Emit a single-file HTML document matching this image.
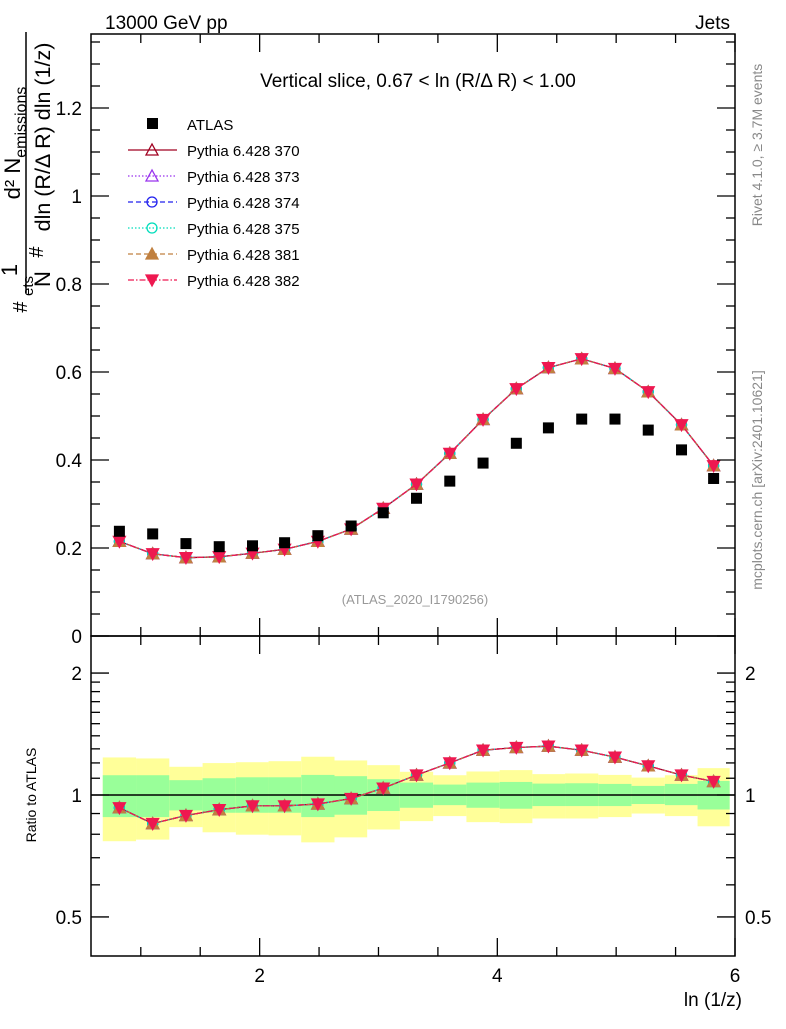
<!DOCTYPE html>
<html><head><meta charset="utf-8"><style>
body{margin:0;background:#fff;}
svg text{font-family:"Liberation Sans",sans-serif;}
</style></head><body>
<svg id="chart" width="786" height="1024" viewBox="0 0 786 1024" xmlns="http://www.w3.org/2000/svg">
<g id="bands"></g>
<g id="marks"></g>
<g id="axes"></g>
<text x="105" y="29" font-size="19">13000 GeV pp</text>
<text x="730" y="29" font-size="19" text-anchor="end">Jets</text>
<text x="418" y="87" font-size="19" text-anchor="middle">Vertical slice, 0.67 &lt; ln (R/Δ R) &lt; 1.00</text>
<text x="415" y="604" font-size="13" fill="#999" text-anchor="middle">(ATLAS_2020_I1790256)</text>
<text transform="translate(762,145) rotate(-90)" font-size="14" fill="#888" text-anchor="middle">Rivet 4.1.0, ≥ 3.7M events</text>
<text transform="translate(762,480) rotate(-90)" font-size="14" fill="#888" text-anchor="middle">mcplots.cern.ch [arXiv:2401.10621]</text>
<g>
<text transform="translate(20,143) rotate(-90)" font-size="22" text-anchor="middle">d² N<tspan font-size="16" dy="6">emissions</tspan></text>
<line x1="26" y1="32" x2="26" y2="293" stroke="#000" stroke-width="1.5"/>
<text transform="translate(50,137) rotate(-90)" font-size="21.5" text-anchor="middle">dln (R/Δ R) dln (1/z)</text>
<text transform="translate(43,252) rotate(-90)" font-size="20" text-anchor="middle">#</text>
<text transform="translate(17,270) rotate(-90)" font-size="22" text-anchor="middle">1</text>
<text transform="translate(50,279) rotate(-90)" font-size="22" text-anchor="middle">N</text>
<text transform="translate(33,286) rotate(-90)" font-size="15" text-anchor="middle">ets</text>
<text transform="translate(27,307) rotate(-90)" font-size="20" text-anchor="middle">#</text>
</g>
<text transform="translate(36,795) rotate(-90)" font-size="14" text-anchor="middle">Ratio to ATLAS</text>
<text x="742" y="1006" font-size="19" text-anchor="end">ln (1/z)</text>
<g id="legend"></g>
</svg>
<script>
const xVals=[0.82,1.10,1.38,1.66,1.94,2.21,2.49,2.77,3.04,3.32,3.60,3.88,4.16,4.43,4.71,4.99,5.27,5.55,5.82];
const atlasVals=[0.238,0.232,0.210,0.203,0.205,0.212,0.228,0.250,0.280,0.313,0.352,0.393,0.438,0.473,0.493,0.493,0.468,0.423,0.358];
const mcVals=[0.215,0.187,0.178,0.180,0.188,0.197,0.215,0.243,0.290,0.345,0.415,0.492,0.562,0.610,0.630,0.608,0.555,0.480,0.387];
const ratioVals=[0.93,0.85,0.89,0.92,0.94,0.94,0.95,0.98,1.04,1.12,1.20,1.29,1.31,1.32,1.29,1.24,1.18,1.12,1.08];
const yellowHi=[1.238,1.231,1.174,1.199,1.205,1.212,1.243,1.217,1.185,1.141,1.119,1.143,1.152,1.126,1.130,1.121,1.104,1.119,1.165];
const greenHi=[1.119,1.119,1.088,1.100,1.106,1.106,1.121,1.113,1.094,1.073,1.061,1.073,1.077,1.067,1.069,1.065,1.053,1.065,1.083];
const greenLo=[0.882,0.882,0.916,0.904,0.904,0.904,0.882,0.894,0.913,0.930,0.944,0.930,0.925,0.939,0.939,0.939,0.950,0.944,0.921];
const yellowLo=[0.769,0.776,0.833,0.809,0.798,0.795,0.764,0.786,0.822,0.862,0.887,0.857,0.852,0.875,0.875,0.882,0.900,0.887,0.837];
const seriesNames=["Pythia 6.428 370","Pythia 6.428 373","Pythia 6.428 374","Pythia 6.428 375","Pythia 6.428 381","Pythia 6.428 382"];
const NS="http://www.w3.org/2000/svg";
const L=91,R=735,T=34,MB=636,RB=956;
const X=v=>L+(v-0.581)*(R-L)/(6.0-0.581);
const Y=v=>MB-v*440;
const YR=v=>795-Math.log10(v)*405;
function mk(tag,attrs,parent){const e=document.createElementNS(NS,tag);for(const k in attrs)e.setAttribute(k,attrs[k]);parent.appendChild(e);return e;}
const bands=document.getElementById('bands'),marks=document.getElementById('marks'),axes=document.getElementById('axes'),legend=document.getElementById('legend');
const edges=[];
for(let i=0;i<=xVals.length;i++){
  if(i==0)edges.push(xVals[0]-(xVals[1]-xVals[0])/2);
  else if(i==xVals.length)edges.push(xVals[i-1]+(xVals[i-1]-xVals[i-2])/2);
  else edges.push((xVals[i-1]+xVals[i])/2);
}
for(let i=0;i<xVals.length;i++){
  const x0=X(edges[i]),x1=X(edges[i+1]);
  let r=mk('rect',{x:x0,y:YR(yellowHi[i]),width:x1-x0,height:YR(yellowLo[i])-YR(yellowHi[i]),fill:'#ffff99'},bands);
  
  
  r=mk('rect',{x:x0,y:YR(greenHi[i]),width:x1-x0,height:YR(greenLo[i])-YR(greenHi[i]),fill:'#99ff99'},bands);
  
  
}
mk('line',{x1:L,x2:R,y1:YR(1),y2:YR(1),stroke:'#000','stroke-width':1.5},bands);
const styles=[
 {c:'#a00020',dash:'',m:'tri',fill:'none'},
 {c:'#9933ee',dash:'1.5,2',m:'tri',fill:'none'},
 {c:'#2222ee',dash:'5,3',m:'circ',fill:'none'},
 {c:'#00ddbb',dash:'1.5,2',m:'circ',fill:'none'},
 {c:'#c08040',dash:'5,3',m:'tri',fill:'#c08040'},
 {c:'#ee1850',dash:'6,2,1.5,2',m:'tridown',fill:'#ee1850'}];
function marker(s,x,y,g){
  if(s.m=='circ')return mk('circle',{cx:x,cy:y,r:5,fill:s.fill,stroke:s.c,'stroke-width':1.3},g);
  if(s.m=='tri')return mk('polygon',{points:`${x},${y-6} ${x-6},${y+5} ${x+6},${y+5}`,fill:s.fill,stroke:s.c,'stroke-width':1.3},g);
  return mk('polygon',{points:`${x},${y+6} ${x-6},${y-5} ${x+6},${y-5}`,fill:s.fill,stroke:s.c,'stroke-width':1.3},g);
}
styles.forEach((s,k)=>{
  const pm=xVals.map((x,i)=>X(x)+','+Y(mcVals[i])).join(' ');
  const pl=mk('polyline',{points:pm,fill:'none',stroke:s.c,'stroke-width':1.3,'stroke-dasharray':s.dash},marks);
  
  
  const pr=xVals.map((x,i)=>X(x)+','+YR(ratioVals[i])).join(' ');
  const rl=mk('polyline',{points:pr,fill:'none',stroke:s.c,'stroke-width':1.3,'stroke-dasharray':s.dash},marks);
  
  
  xVals.forEach((x,i)=>{
    const a=marker(s,X(x),Y(mcVals[i]),marks);
    
    
    const b=marker(s,X(x),YR(ratioVals[i]),marks);
    
    
  });
});
xVals.forEach((x,i)=>{
  const r=mk('rect',{x:X(x)-5.5,y:Y(atlasVals[i])-5.5,width:11,height:11,fill:'#000'},marks);
  
  
});
const ly=[124,150,176,202,228,254,280];
mk('rect',{x:147,y:ly[0]-6,width:11,height:11,fill:'#000'},legend);
let lt=mk('text',{x:187,y:ly[0]+6,'font-size':15},legend);lt.textContent='ATLAS';


styles.forEach((s,k)=>{
  const y=ly[k+1];
  mk('line',{x1:128,x2:177,y1:y,y2:y,stroke:s.c,'stroke-width':1.3,'stroke-dasharray':s.dash},legend);
  marker(s,152,y,legend);
  const t=mk('text',{x:187,y:y+6,'font-size':15},legend);t.textContent=seriesNames[k];
  
  
});
mk('rect',{x:L,y:T,width:R-L,height:MB-T,fill:'none',stroke:'#000','stroke-width':1.5},axes);
mk('rect',{x:L,y:MB,width:R-L,height:RB-MB,fill:'none',stroke:'#000','stroke-width':1.5},axes);
for(let v=0.5;v<=6.01;v+=0.5){
  const x=X(v);if(x<L-0.5)continue;
  const maj=Math.abs(v-Math.round(v/2)*2)<1e-6;
  const len=maj?18:9;
  mk('line',{x1:x,x2:x,y1:RB,y2:RB-len,stroke:'#000','stroke-width':1.3},axes);
  mk('line',{x1:x,x2:x,y1:MB,y2:MB-len,stroke:'#000','stroke-width':1.3},axes);
  mk('line',{x1:x,x2:x,y1:T,y2:T+len,stroke:'#000','stroke-width':1.3},axes);
  mk('line',{x1:x,x2:x,y1:MB,y2:MB+len,stroke:'#000','stroke-width':1.3},axes);
  if(maj){const t=mk('text',{x:x,y:982,'font-size':19,'text-anchor':'middle'},axes);t.textContent=String(Math.round(v));}
}
for(let i=0;i<=27;i++){
  const v=i*0.05,y=Y(v);if(y<T)break;
  const maj=i%4==0,len=maj?18:9;
  mk('line',{x1:L,x2:L+len,y1:y,y2:y,stroke:'#000','stroke-width':1.3},axes);
  mk('line',{x1:R,x2:R-len,y1:y,y2:y,stroke:'#000','stroke-width':1.3},axes);
  if(maj){const t=mk('text',{x:82,y:y+7,'font-size':19,'text-anchor':'end'},axes);t.textContent=i==0?'0':(i==20?'1':(v).toFixed(1).replace(/0$/,''));}
}
const rt=[0.4,0.5,0.6,0.7,0.8,0.9,1,1.1,1.2,1.3,1.4,1.5,1.6,1.7,1.8,1.9,2];
rt.forEach(v=>{
  const y=YR(v);if(y>RB||y<MB)return;
  const maj=(v==0.5||v==1||v==2),len=maj?18:9;
  mk('line',{x1:L,x2:L+len,y1:y,y2:y,stroke:'#000','stroke-width':1.3},axes);
  mk('line',{x1:R,x2:R-len,y1:y,y2:y,stroke:'#000','stroke-width':1.3},axes);
  if(maj){
    let t=mk('text',{x:82,y:y+7,'font-size':19,'text-anchor':'end'},axes);t.textContent=String(v);
    t=mk('text',{x:745,y:y+7,'font-size':19},axes);t.textContent=String(v);
  }
});
</script>
</body></html>
